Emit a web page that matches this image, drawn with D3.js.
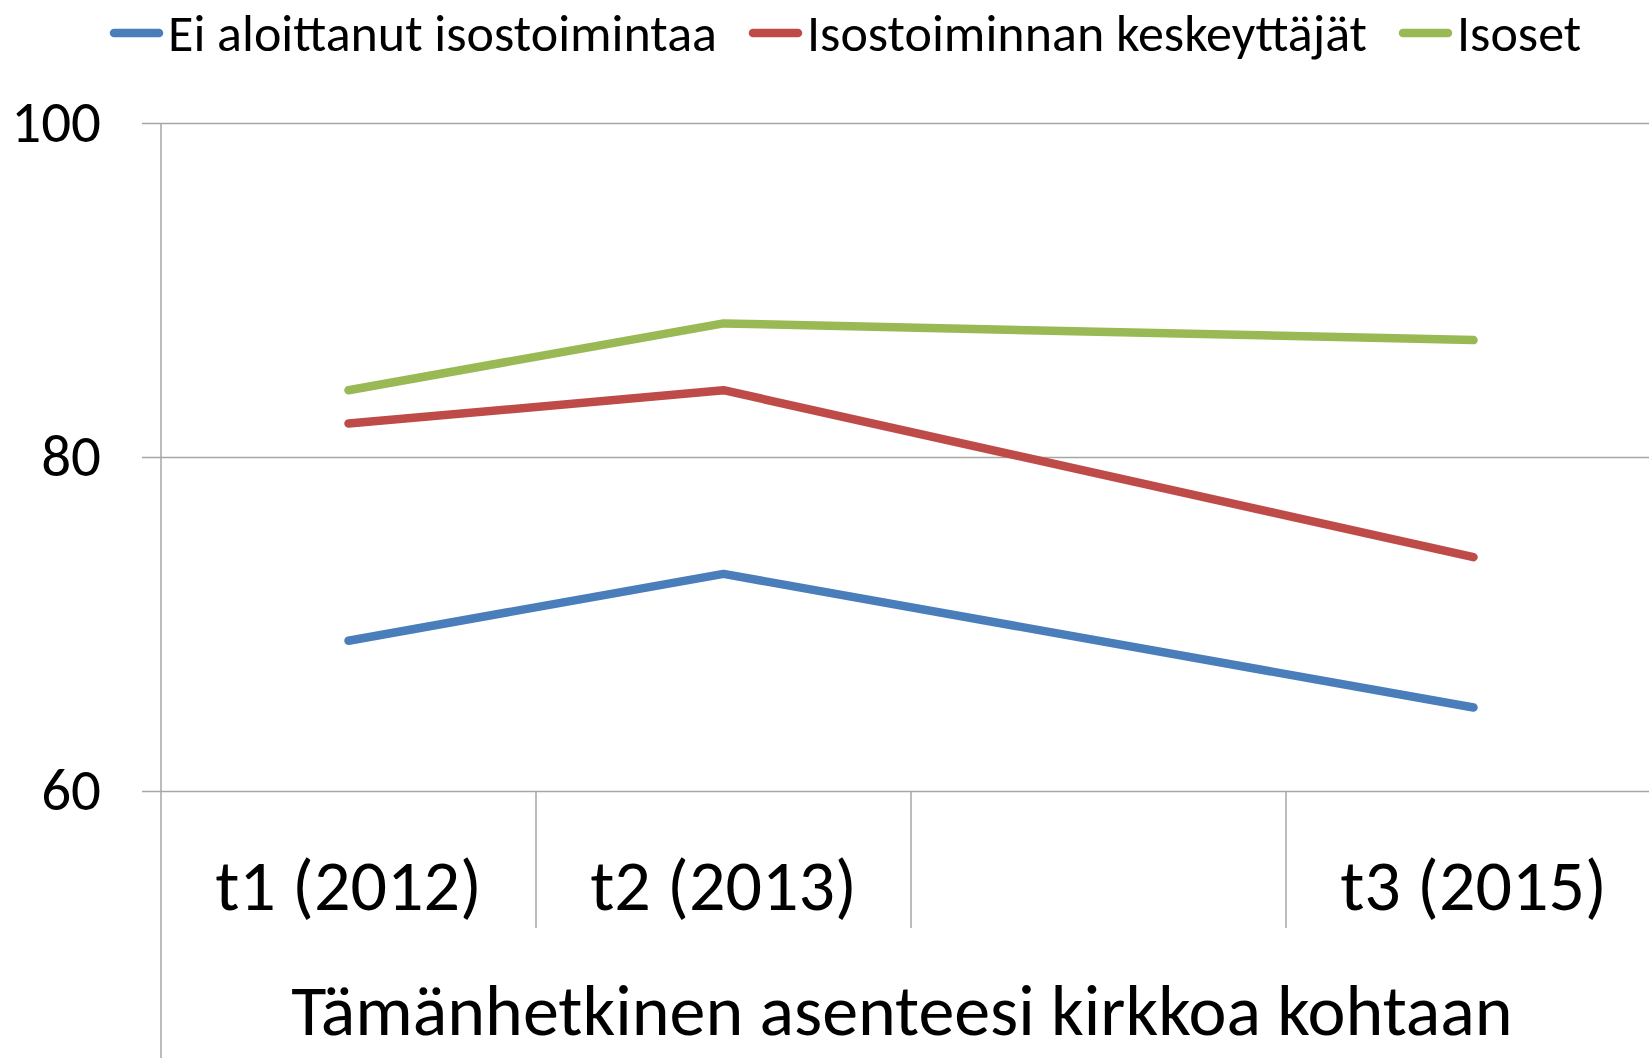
<!DOCTYPE html>
<html>
<head>
<meta charset="utf-8">
<script src="https://cdn.jsdelivr.net/npm/d3@7"></script>
<style>
    body { margin: 0; background: #fff; }
    svg { display: block; font-family: Carlito, Calibri, Lato, sans-serif; }
</style>
</head>
<body>
<div id="chart"></div>
<script>
// chart data
var categories = ["t1 (2012)", "t2 (2013)", "", "t3 (2015)"];
var groupLabel = "Tämänhetkinen asenteesi kirkkoa kohtaan";
var seriesNames = ["Ei aloittanut isostoimintaa", "Isostoiminnan keskeyttäjät", "Isoset"];
var notStarted = [69, 73, null, 65];
var dropouts = [82, 84, null, 74];
var isoset = [84, 88, null, 87];
var yTicks = [60, 80, 100];

var colors = ["#4A7EBB", "#BE4B48", "#98B954"];
var seriesValues = [notStarted, dropouts, isoset];

var svgWidth = 1649;
var svgHeight = 1058;

var margin = { top: 123, left: 161 };
var width = 1500;   // plot runs past the right edge, like the original
var height = 668;

var svg = d3.select("#chart")
    .append("svg")
    .attr("width", svgWidth)
    .attr("height", svgHeight);

var chartGroup = svg.append("g")
    .attr("transform", `translate(${margin.left}, ${margin.top})`);

var xScale = d3.scaleBand()
    .domain(d3.range(categories.length))
    .range([0, width]);

var yScale = d3.scaleLinear()
    .domain([60, 100])
    .range([height, 0]);

// gridlines
var grid = chartGroup.append("g")
    .call(d3.axisLeft(yScale).tickValues(yTicks).tickSize(-width).tickFormat(""));
grid.select(".domain").remove();
grid.selectAll("line").attr("stroke", "#a6a6a6").attr("stroke-width", 1.5);

// y axis
var yAxis = chartGroup.append("g")
    .call(d3.axisLeft(yScale).tickValues(yTicks).tickSize(19).tickPadding(41));
yAxis.select(".domain").remove();
yAxis.selectAll("line").attr("stroke", "#a6a6a6").attr("stroke-width", 1.5);
yAxis.selectAll("text")
    .attr("font-size", "59px")
    .attr("font-family", "Carlito, Calibri, Lato, sans-serif")
    .attr("fill", "#000");

// vertical axis line, runs down through the category label area
chartGroup.append("line")
    .attr("x1", 0).attr("x2", 0)
    .attr("y1", 0).attr("y2", svgHeight - margin.top)
    .attr("stroke", "#a6a6a6").attr("stroke-width", 1.5);

// category dividers
chartGroup.selectAll(".divider")
    .data(d3.range(1, categories.length))
    .enter()
    .append("line")
    .attr("class", "divider")
    .attr("x1", d => xScale(d)).attr("x2", d => xScale(d))
    .attr("y1", height).attr("y2", height + 137)
    .attr("stroke", "#a6a6a6").attr("stroke-width", 1.5);

// category labels
var xAxis = chartGroup.append("g")
    .attr("transform", `translate(0, ${height})`)
    .call(d3.axisBottom(xScale).tickSize(0).tickFormat(i => categories[i]));
xAxis.select(".domain").remove();
xAxis.selectAll("text")
    .attr("y", 94)
    .attr("dy", "0.35em")
    .attr("font-size", "72px")
    .attr("font-family", "Carlito, Calibri, Lato, sans-serif")
    .attr("fill", "#000");

// second level label
chartGroup.append("text")
    .attr("x", width / 2 - 9)
    .attr("y", svgHeight - margin.top - 23)
    .attr("text-anchor", "middle")
    .attr("font-size", "72px")
    .text(groupLabel);

// lines
var line = d3.line()
    .x(d => xScale(d.i) + xScale.bandwidth() / 2)
    .y(d => yScale(d.v));

seriesValues.forEach(function (vals, s) {
    var pts = vals.map((v, i) => ({ i: i, v: v })).filter(d => d.v !== null);
    chartGroup.append("path")
        .datum(pts)
        .attr("d", line)
        .attr("fill", "none")
        .attr("stroke", colors[s])
        .attr("stroke-width", 8.5)
        .attr("stroke-linecap", "round")
        .attr("stroke-linejoin", "round");
});

// legend
var legend = svg.append("g").attr("transform", "translate(110, 33)");
var lx = 0;
seriesNames.forEach(function (name, s) {
    legend.append("line")
        .attr("x1", lx + 4).attr("x2", lx + 49)
        .attr("y1", 0).attr("y2", 0)
        .attr("stroke", colors[s])
        .attr("stroke-width", 8.5)
        .attr("stroke-linecap", "round");
    var t = legend.append("text")
        .attr("x", lx + 58)
        .attr("dy", "0.35em")
        .attr("font-size", "52px")
        .attr("fill", "#000")
        .text(name);
    lx += 58 + t.node().getComputedTextLength() + 32;
});
</script>
</body>
</html>
